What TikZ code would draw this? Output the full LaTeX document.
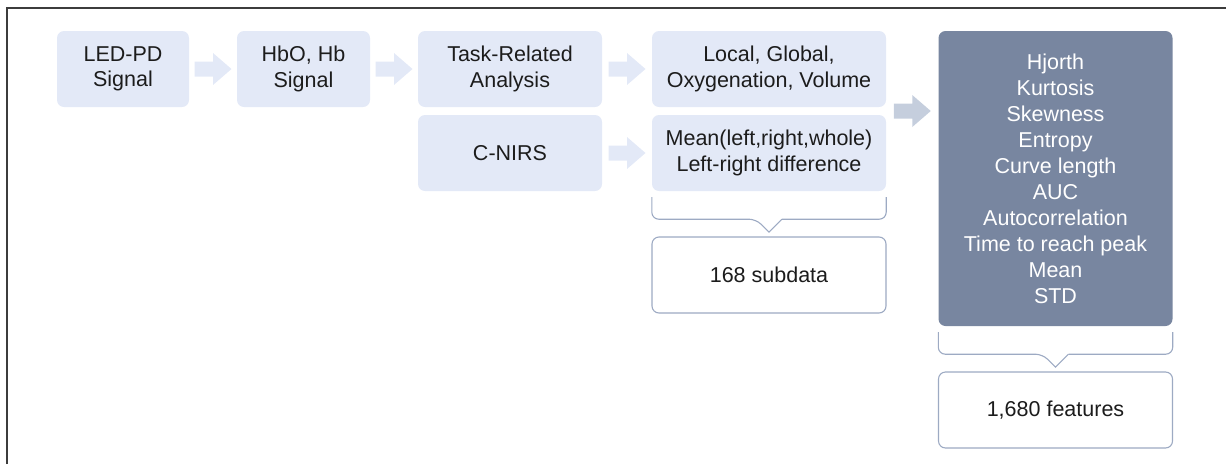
\documentclass[tikz,border=0pt]{standalone}
\usepackage{fontspec}
\setmainfont{Liberation Sans}
\usetikzlibrary{calc}

\definecolor{stagefill}{HTML}{E3E9F7}
\definecolor{bigarrow}{HTML}{C5CEDD}
\definecolor{featfill}{HTML}{7886A0}
\definecolor{outline}{HTML}{9DAAC3}
\definecolor{framegray}{HTML}{3C3C3C}
\definecolor{textgray}{HTML}{1C1C1C}

% block arrow between two nodes: colour, from, to
\newcommand{\blockarrow}[3]{%
  \fill[#1, shift={($(#2.east)!0.5!(#3.west)$)}] (-18.5,-7.5) -- (0,-7.5) -- (0,-16)
    -- (18.5,0) -- (0,16) -- (0,7.5) -- (-18.5,7.5) -- cycle;}
% bracket under a node, pointing down
\newcommand{\groupbrace}[1]{%
  \draw[brace] ($(#1.south west)+(0,6)$) [rounded corners=7] |- ($(#1.south)+(-13,28)$)
    [sharp corners] -- ($(#1.south)+(0,41)$) -- ($(#1.south)+(13,28)$);
  \draw[brace] ($(#1.south)+(13,28)$) [rounded corners=7] -| ($(#1.south east)+(0,6)$);}

\begin{document}
\begin{tikzpicture}[x=1pt, y=-1pt,
  every node/.style={inner sep=0pt, align=center, text=textgray, font=\fontsize{21.5}{25.5}\selectfont},
  stage/.style={fill=stagefill, rounded corners=7, minimum height=76},
  result/.style={draw=outline, line width=1.1, fill=white, rounded corners=7, minimum width=234, minimum height=76},
  featbox/.style={fill=featfill, rounded corners=7, minimum width=234, minimum height=295, text=white, font=\fontsize{21.5}{26}\selectfont},
  brace/.style={draw=outline, line width=1.1}]
\useasboundingbox (0,0) rectangle (1226,464);
\draw [framegray, line width=1.5] (7,464) -- (7,8) -- (1226,8);
% processing stages
\node [stage, minimum width=132] (led) at (123,69) {LED-PD\\Signal};
\node [stage, minimum width=133] (hbo) at (303.5,69) {HbO, Hb\\Signal};
\node [stage, minimum width=184] (task) at (510,69) {Task-Related\\Analysis};
\node [stage, minimum width=184] (cnirs) at (510,153) {C-NIRS};
\node [stage, minimum width=234] (local) at (769,69) {Local, Global,\\Oxygenation, Volume};
\node [stage, minimum width=234] (mean) at (769,153) {Mean(left,right,whole)\\Left-right difference};
\node [result] (subdata) at (769,275) {168 subdata};
% feature list
\node [featbox] (feat) at (1055.5,178.5) {Hjorth\\Kurtosis\\Skewness\\Entropy\\Curve length\\AUC\\Autocorrelation\\Time to reach peak\\Mean\\STD};
\node [result] (count) at (1055.5,410) {1,680 features};
\coordinate (pair) at ($(local.east)!0.5!(mean.east)$);
\coordinate (featin) at (feat.west |- pair);
% arrows
\blockarrow{stagefill}{led}{hbo}
\blockarrow{stagefill}{hbo}{task}
\blockarrow{stagefill}{task}{local}
\blockarrow{stagefill}{cnirs}{mean}
\blockarrow{bigarrow}{pair}{featin}
% brackets
\groupbrace{mean}
\groupbrace{feat}
\end{tikzpicture}
\end{document}
